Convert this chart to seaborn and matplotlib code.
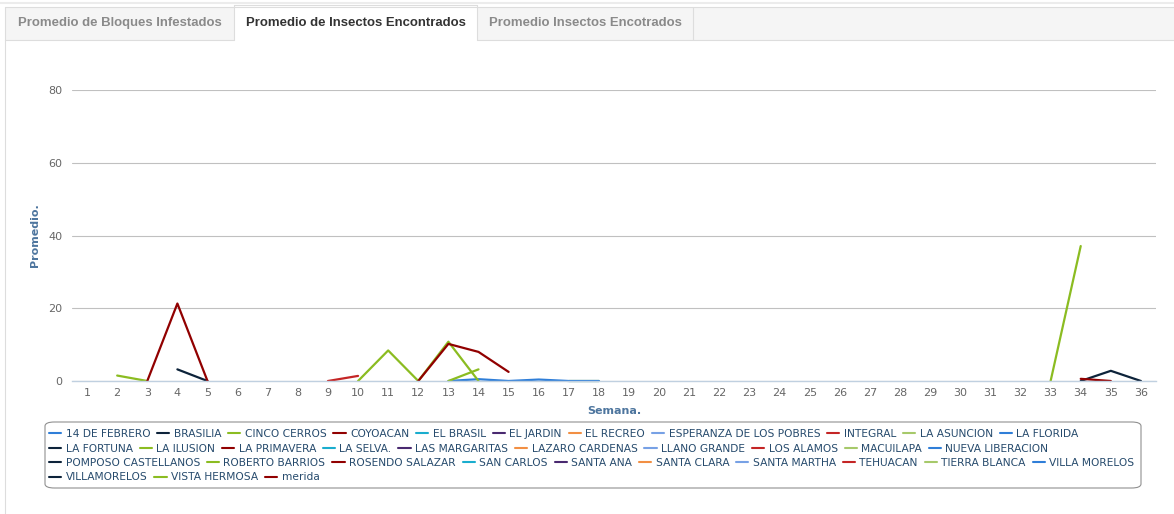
import numpy as np
import pandas as pd
import matplotlib
matplotlib.use("Agg")
import matplotlib.pyplot as plt
import seaborn as sns
from matplotlib.lines import Line2D
from matplotlib.patches import Rectangle, FancyBboxPatch

# --------------------------------------------------
# DATA
# --------------------------------------------------

WEEKS = list(range(1, 37))

SERIES = [
    "14 DE FEBRERO", "BRASILIA", "CINCO CERROS", "COYOACAN", "EL BRASIL",
    "EL JARDIN", "EL RECREO", "ESPERANZA DE LOS POBRES", "INTEGRAL",
    "LA ASUNCION", "LA FLORIDA", "LA FORTUNA", "LA ILUSION", "LA PRIMAVERA",
    "LA SELVA.", "LAS MARGARITAS", "LAZARO CARDENAS", "LLANO GRANDE",
    "LOS ALAMOS", "MACUILAPA", "NUEVA LIBERACION", "POMPOSO CASTELLANOS",
    "ROBERTO BARRIOS", "ROSENDO SALAZAR", "SAN CARLOS", "SANTA ANA",
    "SANTA CLARA", "SANTA MARTHA", "TEHUACAN", "TIERRA BLANCA",
    "VILLA MORELOS", "VILLAMORELOS", "VISTA HERMOSA", "merida",
]

# highcharts default colour cycle
PALETTE_CYCLE = ["#2f7ed8", "#0d233a", "#8bbc21", "#910000", "#1aadce",
                 "#492970", "#f28f43", "#77a1e5", "#c42525", "#a6c96a"]

# week -> average insects (only weeks with data)
brasilia_weeks = [4, 5]
brasilia_vals = [3.2, 0]
cinco_cerros_weeks = [2, 3]
cinco_cerros_vals = [1.5, 0]
coyoacan_weeks = [3, 4, 5]
coyoacan_vals = [0, 21.3, 0]
integral_weeks = [9, 10]
integral_vals = [0, 1.4]
la_asuncion_weeks = [17, 18]
la_asuncion_vals = [0, 0]
la_florida_weeks = [13, 14, 15, 16, 17, 18]
la_florida_vals = [0, 0.5, 0, 0.4, 0, 0]
la_ilusion_weeks = [10, 11, 12, 13, 14]
la_ilusion_vals = [0, 8.4, 0, 10.8, 0]
la_primavera_weeks = [12, 13, 14, 15]
la_primavera_vals = [0, 10.2, 8.0, 2.5]
roberto_barrios_weeks = [13, 14]
roberto_barrios_vals = [0, 3.2]
villamorelos_weeks = [34, 35, 36]
villamorelos_vals = [0, 2.8, 0]
vista_hermosa_weeks = [33, 34]
vista_hermosa_vals = [0, 37.1]
merida_weeks = [34, 35]
merida_vals = [0.6, 0]

series_data = {
    "BRASILIA": (brasilia_weeks, brasilia_vals),
    "CINCO CERROS": (cinco_cerros_weeks, cinco_cerros_vals),
    "COYOACAN": (coyoacan_weeks, coyoacan_vals),
    "INTEGRAL": (integral_weeks, integral_vals),
    "LA ASUNCION": (la_asuncion_weeks, la_asuncion_vals),
    "LA FLORIDA": (la_florida_weeks, la_florida_vals),
    "LA ILUSION": (la_ilusion_weeks, la_ilusion_vals),
    "LA PRIMAVERA": (la_primavera_weeks, la_primavera_vals),
    "ROBERTO BARRIOS": (roberto_barrios_weeks, roberto_barrios_vals),
    "VILLAMORELOS": (villamorelos_weeks, villamorelos_vals),
    "VISTA HERMOSA": (vista_hermosa_weeks, vista_hermosa_vals),
    "merida": (merida_weeks, merida_vals),
}

LEGEND_ROWS = [11, 10, 10, 3]

colors = {s: PALETTE_CYCLE[i % len(PALETTE_CYCLE)] for i, s in enumerate(SERIES)}

rows = []
for name in SERIES:
    if name in series_data:
        wk, vals = series_data[name]
        for w, v in zip(wk, vals):
            rows.append((name, w, v))
df = pd.DataFrame(rows, columns=["serie", "semana", "promedio"])

# --------------------------------------------------
# FIGURE
# --------------------------------------------------

sns.set_theme(style="white")
plt.rcParams["font.family"] = ["DejaVu Sans"]

W, H = 1174, 514
fig = plt.figure(figsize=(W / 100, H / 100), dpi=100)


def fx(x):
    return x / W


def fy(y):
    return 1 - y / H


# tab bar
fig.add_artist(Rectangle((fx(5), fy(39.5)), fx(1174 - 5), (33 / H),
                         transform=fig.transFigure, facecolor="#f5f5f5",
                         edgecolor="none"))
fig.add_artist(Line2D([fx(0), fx(1174)], [fy(3), fy(3)], color="#ececec",
                      lw=1.5, transform=fig.transFigure))
fig.add_artist(Line2D([fx(5), fx(1174)], [fy(6.5), fy(6.5)], color="#dddddd",
                      lw=0.8, transform=fig.transFigure))
fig.add_artist(Line2D([fx(5), fx(234)], [fy(39.5), fy(39.5)], color="#dddddd",
                      lw=0.8, transform=fig.transFigure))
fig.add_artist(Line2D([fx(477), fx(1174)], [fy(39.5), fy(39.5)], color="#dddddd",
                      lw=0.8, transform=fig.transFigure))
fig.add_artist(Rectangle((fx(234), fy(40)), fx(243), (35 / H),
                         transform=fig.transFigure, facecolor="white",
                         edgecolor="none"))
for xb, y0 in [(5, 6.5), (234, 5), (477, 5), (693, 6.5)]:
    fig.add_artist(Line2D([fx(xb), fx(xb)], [fy(y0), fy(39.5)], color="#dddddd",
                          lw=0.8, transform=fig.transFigure))
fig.add_artist(Line2D([fx(234), fx(477)], [fy(5), fy(5)], color="#dddddd",
                      lw=0.8, transform=fig.transFigure))
fig.add_artist(Line2D([fx(5), fx(5)], [fy(39.5), fy(514)], color="#dddddd",
                      lw=0.8, transform=fig.transFigure))

tab_font = dict(family="Liberation Sans", fontweight="bold", fontsize=9.45,
                va="center", ha="left")
fig.text(fx(18), fy(23), "Promedio de Bloques Infestados", color="#8a8a8a", **tab_font)
fig.text(fx(246), fy(23), "Promedio de Insectos Encontrados", color="#333333", **tab_font)
fig.text(fx(489), fy(23), "Promedio Insectos Encotrados", color="#8a8a8a", **tab_font)

# chart
ax = fig.add_axes([fx(72), fy(381), fx(1156 - 72), (381 - 90) / H])

sns.lineplot(data=df, x="semana", y="promedio", hue="serie",
             hue_order=[s for s in SERIES if s in series_data],
             palette=colors, estimator=None, sort=True, legend=False,
             linewidth=1.6, ax=ax)
for ln in ax.lines:
    ln.set_clip_on(False)
    ln.set_solid_joinstyle("round")

ax.set_xlim(0.5, 36.5)
ax.set_ylim(0, 80)
ax.set_yticks([0, 20, 40, 60, 80])
ax.set_xticks(WEEKS)
ax.set_xticklabels([str(w) for w in WEEKS])
ax.set_xticks(np.arange(0.5, 37, 1), minor=True)
ax.grid(axis="y", color="#c0c0c0", lw=0.8)
ax.set_axisbelow(True)
for side in ["top", "right", "left"]:
    ax.spines[side].set_visible(False)
ax.spines["bottom"].set_color("#c0d0e0")
ax.spines["bottom"].set_linewidth(1)
ax.tick_params(axis="x", which="major", length=0, pad=5, labelsize=8,
               labelcolor="#666666")
ax.tick_params(axis="x", which="minor", length=5, width=0.8, color="#c0d0e0",
               direction="out")
ax.tick_params(axis="y", length=0, pad=7, labelsize=8, labelcolor="#666666")

ax.set_xlabel("Semana.", fontsize=8, fontweight="bold", color="#4d759e")
ax.xaxis.set_label_coords(0.5, -(406 - 381) / 291)
ax.set_ylabel("Promedio.", fontsize=8, fontweight="bold", color="#4d759e")
ax.yaxis.set_label_coords(-(72 - 40) / 1084, 0.5)

# legend box
fig.add_artist(FancyBboxPatch((fx(45), fy(488)), fx(1141 - 45), (488 - 422) / H,
                              boxstyle="round,pad=0,rounding_size=0.008",
                              transform=fig.transFigure, facecolor="white",
                              edgecolor="#909090", lw=0.8))

start = 0
row_y = [434, 448.5, 463, 477.5]
for n, yy in zip(LEGEND_ROWS, row_y):
    names = SERIES[start:start + n]
    start += n
    handles = [Line2D([0], [0], color=colors[s], lw=1.5) for s in names]
    leg = fig.legend(handles, names, loc="center left",
                     bbox_to_anchor=(fx(49), fy(yy)), ncol=n, frameon=False,
                     fontsize=7.7, handlelength=1.15, handletextpad=0.4,
                     columnspacing=0.65, borderpad=0, borderaxespad=0)
    for t in leg.get_texts():
        t.set_color("#274b6d")

fig.savefig("out.png", dpi=100)
